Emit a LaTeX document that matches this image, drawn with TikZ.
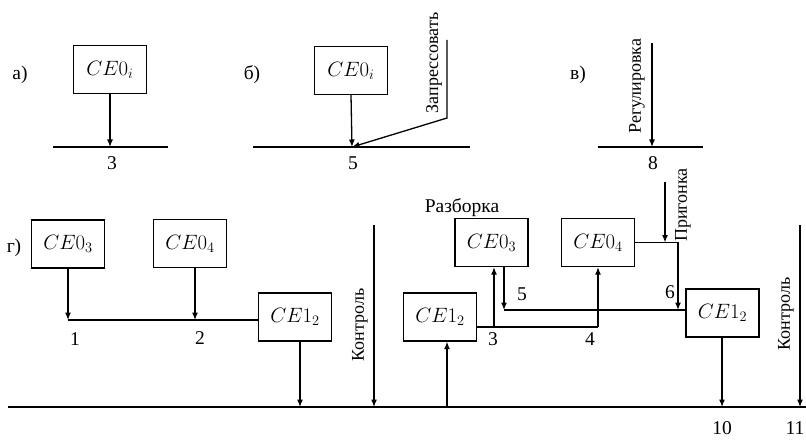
\documentclass[tikz,border=0pt]{standalone}
\usepackage{fontspec}
\setmainfont{Liberation Serif}
\usetikzlibrary{arrows.meta}

\begin{document}
\begin{tikzpicture}[x=1pt,y=-1pt,
    block/.style={draw,line width=1.3pt,minimum width=73pt,minimum height=48pt,inner sep=0pt,font=\fontsize{21}{24}\selectfont},
    flow/.style={line width=1.3pt,-{Latex[length=7.5pt,width=6pt]}},
    link/.style={line width=1.3pt},
    base/.style={line width=1.6pt},
    lbl/.style={font=\fontsize{19.5}{22}\selectfont,inner sep=1pt},
    oper/.style={font=\fontsize{18}{21}\selectfont,rotate=90,inner sep=1pt}]
        \useasboundingbox (0,0) rectangle (806,441);

        % a)
        \node[lbl] (tagA) at (20,75) {а)};
        \node[block] (ceA) at (110,69.5) {$CE0_i$};
        \coordinate (pA) at (110,147);
        \coordinate (lA1) at (53,147);
        \coordinate (lA2) at (168,147);
        \draw[base] (lA1) -- (lA2);
        \draw[flow] (ceA.south) -- (pA);
        \node[lbl] (nA) at (112,163) {3};

        % b)
        \node[lbl] (tagB) at (252,75) {б)};
        \node[block] (ceB) at (351,70.5) {$CE0_i$};
        \coordinate (pB) at (352,147);
        \coordinate (lB1) at (253,147);
        \coordinate (lB2) at (470,147);
        \coordinate (zTop) at (447,40);
        \coordinate (zBend) at (447,118);
        \draw[base] (lB1) -- (lB2);
        \draw[flow] (ceB.south) -- (pB);
        \draw[flow] (zTop) -- (zBend) -- (pB);
        \node[oper] (opZ) at (434,63) {Запрессовать};
        \node[lbl] (nB) at (353,163) {5};

        % v)
        \node[lbl] (tagV) at (578,75) {в)};
        \coordinate (vTop) at (652,43);
        \coordinate (pV) at (652,147);
        \coordinate (lV1) at (598,147);
        \coordinate (lV2) at (703,147);
        \draw[base] (lV1) -- (lV2);
        \draw[flow] (vTop) -- (pV);
        \node[oper] (opR) at (637,86) {Регулировка};
        \node[lbl] (nV) at (653,163) {8};

        % g)
        \node[lbl] (tagG) at (14,248) {г)};
        \coordinate (lG1) at (8,407);
        \coordinate (lG2) at (806,407);
        \draw[base] (lG1) -- (lG2);

        \node[block] (ce03) at (68,244) {$CE0_3$};
        \node[block] (ce04) at (190,243.5) {$CE0_4$};
        \node[block] (ce12a) at (295,317) {$CE1_2$};
        \coordinate (p1) at (68,320);
        \coordinate (p2) at (195,320);
        \coordinate (q1) at (300,407);
        \draw[flow] (ce03.south) -- (p1);
        \draw[flow] (ce04.south -| p2) -- (p2);
        \draw[link] (p1) -- (p1 -| ce12a.west);
        \draw[flow] (ce12a.south -| q1) -- (q1);
        \node[lbl] (n1) at (75,339) {1};
        \node[lbl] (n2) at (200,338) {2};

        \coordinate (kTop) at (374,225);
        \coordinate (kBot) at (374,407);
        \draw[flow] (kTop) -- (kBot);
        \node[oper] (opK) at (360,325) {Контроль};

        \node[lbl] (opD) at (462,208) {Разборка};
        \node[block] (ce03b) at (491.5,242.5) {$CE0_3$};
        \node[block] (ce04b) at (598,242.5) {$CE0_4$};
        \node[block] (ce12b) at (440,317) {$CE1_2$};
        \node[block] (ce12c) at (722.5,313) {$CE1_2$};
        \coordinate (p3) at (494,327);
        \coordinate (p4) at (598,327);
        \coordinate (p5) at (504,310);
        \coordinate (p6) at (678,310);
        \coordinate (gTop) at (665,182);
        \coordinate (q3) at (447,407);
        \coordinate (q10) at (722,407);
        \draw[link] (p3 -| ce12b.east) -- (p4);
        \draw[flow] (p4) -- (ce04b.south);
        \draw[flow] (p3) -- (ce03b.south -| p3);
        \draw[flow] (ce03b.south -| p5) -- (p5);
        \draw[link] (p5) -- (p5 -| ce12c.west);
        \draw[flow] (ce04b.east) -- (ce04b.east -| p6) -- (p6);
        \draw[flow] (gTop) -- (gTop |- ce04b.east);
        \node[oper] (opP) at (683,205) {Пригонка};
        \draw[flow] (q3) -- (ce12b.south -| q3);
        \draw[flow] (ce12c.south -| q10) -- (q10);
        \node[lbl] (n5) at (522,294) {5};
        \node[lbl] (n6) at (670,292) {6};
        \node[lbl] (n3) at (493,339) {3};
        \node[lbl] (n4) at (590,339) {4};
        \node[lbl] (n10) at (722,428) {10};
        \node[lbl] (n11) at (795,428) {11};

        \coordinate (kTop2) at (800,225);
        \coordinate (kBot2) at (800,407);
        \draw[flow] (kTop2) -- (kBot2);
        \node[oper] (opK2) at (786,314) {Контроль};
\end{tikzpicture}
\end{document}
